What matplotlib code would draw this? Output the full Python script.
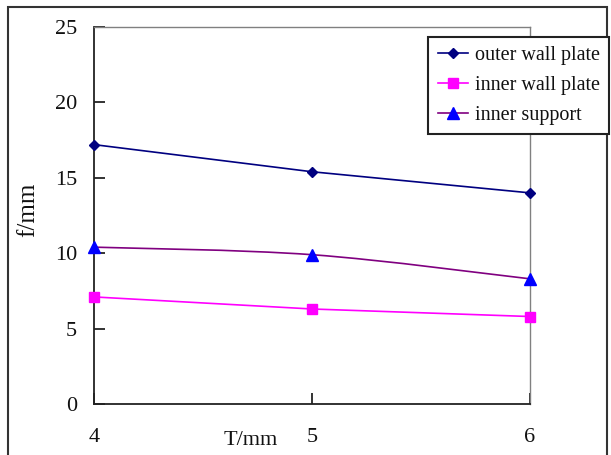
import numpy as np
import matplotlib.pyplot as plt
from matplotlib.path import Path
from matplotlib.patches import PathPatch, Rectangle
from matplotlib.lines import Line2D

plt.rcParams['font.family'] = ['Liberation Serif', 'DejaVu Serif']

T = [4, 5, 6]
outer_wall = [17.2, 15.4, 14.0]
inner_wall = [7.1, 6.3, 5.8]
inner_support = [10.4, 9.9, 8.3]


def smooth_path(x, y):
	# Excel-like smoothed line: Catmull-Rom segments as cubic beziers
	x = np.asarray(x, float)
	y = np.asarray(y, float)
	px = np.concatenate([[x[0]], x, [x[-1]]])
	py = np.concatenate([[y[0]], y, [y[-1]]])
	verts = [(x[0], y[0])]
	codes = [Path.MOVETO]
	for i in range(1, len(px) - 2):
		c1 = (px[i] + (px[i + 1] - px[i - 1]) / 6, py[i] + (py[i + 1] - py[i - 1]) / 6)
		c2 = (px[i + 1] - (px[i + 2] - px[i]) / 6, py[i + 1] - (py[i + 2] - py[i]) / 6)
		verts += [c1, c2, (px[i + 1], py[i + 1])]
		codes += [Path.CURVE4] * 3
	return Path(verts, codes)


fig = plt.figure(figsize=(6.11, 4.55), dpi=100)
ax = fig.add_axes([0.1538, 0.1121, 0.7136, 0.8286])

ax.plot(T, outer_wall, color="#000080", lw=1.2, marker="D", ms=5,
	clip_on=False, zorder=3)
ax.plot(T, inner_wall, color="#FF00FF", lw=1.2, marker="s", ms=7,
	clip_on=False, zorder=3)
ax.add_patch(PathPatch(smooth_path(T, inner_support), fill=False,
	edgecolor="#800080", lw=1.2, zorder=2))
ax.plot(T, inner_support, ls="none", color="#0000FF", marker="^", ms=8,
	clip_on=False, zorder=3)

ax.set_xlim(4, 6)
ax.set_ylim(0, 25)
ax.set_xticks([4, 5, 6])
ax.set_yticks([0, 5, 10, 15, 20, 25])

for s in ["left", "bottom"]:
	ax.spines[s].set_color("#222222")
	ax.spines[s].set_linewidth(1.3)
for s in ["top", "right"]:
	ax.spines[s].set_color("#808080")
	ax.spines[s].set_linewidth(1.0)

ax.tick_params(axis="y", direction="in", length=8, width=1.2, labelsize=16,
	pad=12, colors="#111111")
ax.tick_params(axis="x", direction="in", length=8, width=1.2, labelsize=16,
	pad=17, colors="#111111")

ax.set_ylabel("f/mm", fontsize=18, va="center", color="#111111")
ax.yaxis.set_label_coords(-0.151, 0.515)
ax.set_xlabel("T/mm", fontsize=16, va="center", color="#111111")
ax.xaxis.set_label_coords(0.36, -0.097)

handles = [
	Line2D([], [], color="#000080", lw=1.2, marker="D", ms=5),
	Line2D([], [], color="#FF00FF", lw=1.2, marker="s", ms=7),
	Line2D([], [], color="#800080", lw=1.2, marker="^", ms=8,
		markerfacecolor="#0000FF", markeredgecolor="#0000FF"),
]
leg = fig.legend(handles, ["outer wall plate", "inner wall plate", "inner support"],
	loc="upper right", bbox_to_anchor=(0.9965, 0.919), fontsize=14.5,
	fancybox=False, framealpha=1, edgecolor="#222222", borderpad=0.45,
	handlelength=1.5, handletextpad=0.35, labelspacing=0.55, borderaxespad=0)
leg.get_frame().set_linewidth(1.5)
for t in leg.get_texts():
	t.set_color("#111111")

fig.patches.append(Rectangle((0.013, -0.02), 0.9805, 1.005, transform=fig.transFigure,
	fill=False, edgecolor="#333333", lw=1.5))

fig.savefig("out.png", dpi=100)
